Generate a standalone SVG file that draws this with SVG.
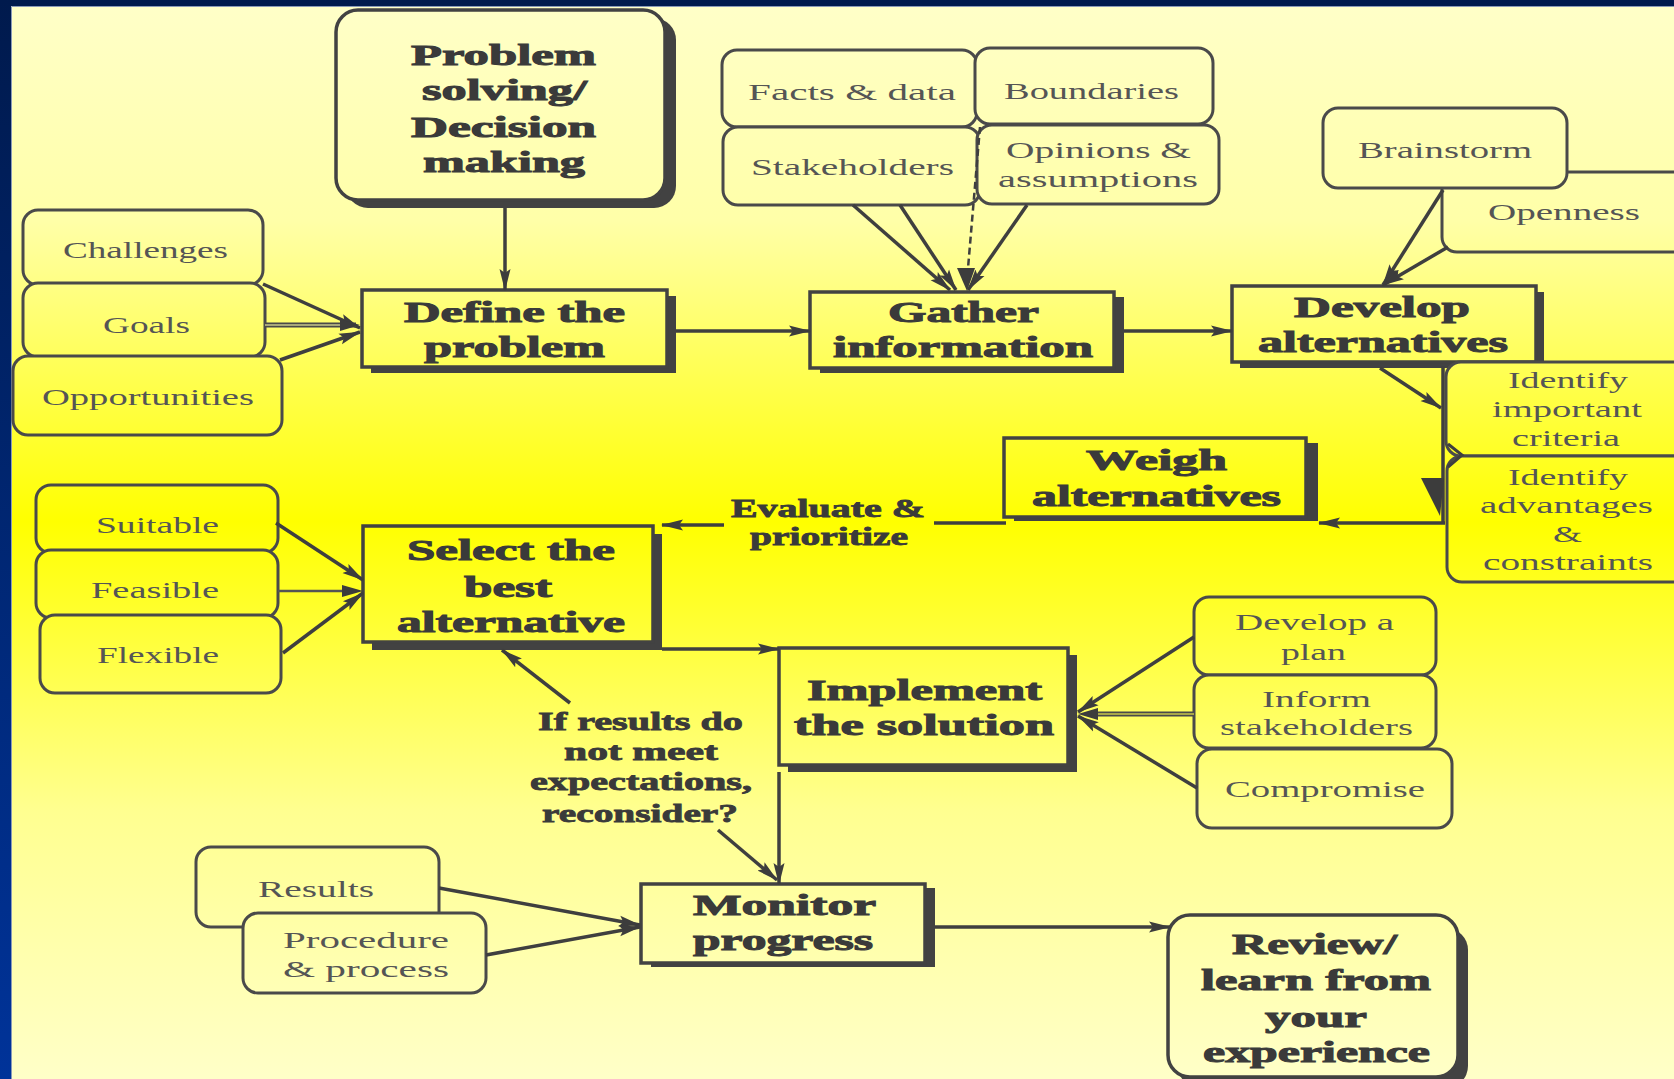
<svg xmlns="http://www.w3.org/2000/svg" width="1674" height="1079" viewBox="0 0 1674 1079">
<defs>
  <linearGradient id="frame" gradientUnits="userSpaceOnUse" x1="0" y1="0" x2="0" y2="1079">
    <stop offset="0" stop-color="#001a4d"/>
    <stop offset="1" stop-color="#003399"/>
  </linearGradient>
  <linearGradient id="bg" gradientUnits="userSpaceOnUse" x1="0" y1="6" x2="0" y2="1079">
    <stop offset="0" stop-color="#ffffc8"/>
    <stop offset="0.2" stop-color="#ffffa8"/>
    <stop offset="0.48" stop-color="#ffff00"/>
    <stop offset="0.75" stop-color="#ffff90"/>
    <stop offset="1" stop-color="#ffffc8"/>
  </linearGradient>
  <marker id="ah" markerUnits="userSpaceOnUse" markerWidth="24" markerHeight="14" refX="21" refY="7" orient="auto" viewBox="0 0 24 14">
    <path d="M0,1.5 L22,7 L0,12.5 L4,7 z" fill="#3c3c3c"/>
  </marker>
</defs>
<style>
  .main { fill: url(#bg); stroke: #424242; stroke-width: 3.5; }
  .sh { fill: #424242; }
  .rb { fill: url(#bg); stroke: #4a4a4a; stroke-width: 3; }
  .t { font-family: "Liberation Serif", "DejaVu Serif", serif; font-weight: bold; font-size: 29px; fill: #3a3a3a; stroke: #3a3a3a; stroke-width: 1; }
  .lb { font-family: "Liberation Serif", "DejaVu Serif", serif; font-weight: bold; font-size: 25px; fill: #3a3a3a; stroke: #3a3a3a; stroke-width: 0.8; }
  .s { font-family: "Liberation Serif", "DejaVu Serif", serif; font-size: 24px; fill: #555555; }
  .c { stroke: #3f3f3f; stroke-width: 3.5; fill: none; }
  .ca { stroke: #3f3f3f; stroke-width: 3.5; fill: none; marker-end: url(#ah); }
</style>

<!-- background -->
<rect x="0" y="0" width="1674" height="1079" fill="url(#frame)"/>
<rect x="11" y="6" width="1663" height="1073" fill="url(#bg)"/>
<path d="M11.5,1079 V6.5 H1674" fill="none" stroke="#8a9ab8" stroke-width="1"/>

<!-- nodes -->
<g id="problem-solving">
  <rect class="sh" x="346" y="18" width="330" height="190" rx="22"/>
  <rect class="main" x="336" y="10" width="329" height="190" rx="22"/>
  <text class="t" x="411" y="65" textLength="185" lengthAdjust="spacingAndGlyphs">Problem</text>
  <text class="t" x="422" y="100" textLength="165" lengthAdjust="spacingAndGlyphs">solving/</text>
  <text class="t" x="411" y="137" textLength="185" lengthAdjust="spacingAndGlyphs">Decision</text>
  <text class="t" x="423" y="172" textLength="162" lengthAdjust="spacingAndGlyphs">making</text>
</g>

<g id="challenges">
  <rect class="rb" x="23" y="210" width="240" height="75" rx="15"/>
  <text class="s" x="63" y="258" textLength="165" lengthAdjust="spacingAndGlyphs">Challenges</text>
</g>
<g id="goals">
  <rect class="rb" x="23" y="283" width="242" height="74" rx="15"/>
  <text class="s" x="103" y="333" textLength="87" lengthAdjust="spacingAndGlyphs">Goals</text>
</g>
<g id="opportunities">
  <rect class="rb" x="13" y="356" width="269" height="79" rx="15"/>
  <text class="s" x="42" y="405" textLength="212" lengthAdjust="spacingAndGlyphs">Opportunities</text>
</g>

<g id="define">
  <rect class="sh" x="371" y="296" width="305" height="77"/>
  <rect class="main" x="362" y="290" width="305" height="77"/>
  <text class="t" x="404" y="322" textLength="221" lengthAdjust="spacingAndGlyphs">Define the</text>
  <text class="t" x="424" y="357" textLength="181" lengthAdjust="spacingAndGlyphs">problem</text>
</g>

<g id="facts">
  <rect class="rb" x="722" y="50" width="255" height="77" rx="15"/>
  <text class="s" x="748" y="100" textLength="208" lengthAdjust="spacingAndGlyphs">Facts &amp; data</text>
</g>
<g id="boundaries">
  <rect class="rb" x="975" y="48" width="238" height="76" rx="15"/>
  <text class="s" x="1004" y="99" textLength="175" lengthAdjust="spacingAndGlyphs">Boundaries</text>
</g>
<g id="stakeholders">
  <rect class="rb" x="723" y="127" width="257" height="78" rx="15"/>
  <text class="s" x="751" y="175" textLength="203" lengthAdjust="spacingAndGlyphs">Stakeholders</text>
</g>
<g id="opinions">
  <rect class="rb" x="977" y="125" width="242" height="79" rx="15"/>
  <text class="s" x="1006" y="158" textLength="185" lengthAdjust="spacingAndGlyphs">Opinions &amp;</text>
  <text class="s" x="998" y="187" textLength="200" lengthAdjust="spacingAndGlyphs">assumptions</text>
</g>

<g id="gather">
  <rect class="sh" x="820" y="297" width="304" height="76"/>
  <rect class="main" x="810" y="292" width="304" height="76"/>
  <text class="t" x="888" y="322" textLength="151" lengthAdjust="spacingAndGlyphs">Gather</text>
  <text class="t" x="833" y="357" textLength="260" lengthAdjust="spacingAndGlyphs">information</text>
</g>

<g id="openness">
  <rect class="rb" x="1442" y="172" width="250" height="80" rx="15"/>
  <text class="s" x="1488" y="220" textLength="152" lengthAdjust="spacingAndGlyphs">Openness</text>
</g>
<g id="brainstorm">
  <rect class="rb" x="1323" y="108" width="244" height="80" rx="15"/>
  <text class="s" x="1358" y="158" textLength="174" lengthAdjust="spacingAndGlyphs">Brainstorm</text>
</g>

<g id="develop">
  <rect class="sh" x="1240" y="292" width="304" height="76"/>
  <rect class="main" x="1232" y="286" width="304" height="76"/>
  <text class="t" x="1294" y="317" textLength="176" lengthAdjust="spacingAndGlyphs">Develop</text>
  <text class="t" x="1258" y="352" textLength="250" lengthAdjust="spacingAndGlyphs">alternatives</text>
</g>

<g id="criteria">
  <rect class="rb" x="1446" y="362" width="250" height="94" rx="15"/>
  <text class="s" x="1508" y="388" font-size="23" textLength="120" lengthAdjust="spacingAndGlyphs">Identify</text>
  <text class="s" x="1492" y="417" font-size="23" textLength="150" lengthAdjust="spacingAndGlyphs">important</text>
  <text class="s" x="1512" y="446" font-size="23" textLength="108" lengthAdjust="spacingAndGlyphs">criteria</text>
</g>
<g id="advantages">
  <rect class="rb" x="1447" y="456" width="250" height="126" rx="15"/>
  <text class="s" x="1508" y="485" font-size="23" textLength="120" lengthAdjust="spacingAndGlyphs">Identify</text>
  <text class="s" x="1480" y="513" font-size="23" textLength="173" lengthAdjust="spacingAndGlyphs">advantages</text>
  <text class="s" x="1553" y="542" font-size="23" textLength="29" lengthAdjust="spacingAndGlyphs">&amp;</text>
  <text class="s" x="1483" y="570" font-size="23" textLength="170" lengthAdjust="spacingAndGlyphs">constraints</text>
</g>

<g id="weigh">
  <rect class="sh" x="1014" y="443" width="304" height="78"/>
  <rect class="main" x="1004" y="438" width="302" height="79"/>
  <text class="t" x="1086" y="470" textLength="141" lengthAdjust="spacingAndGlyphs">Weigh</text>
  <text class="t" x="1032" y="506" textLength="249" lengthAdjust="spacingAndGlyphs">alternatives</text>
</g>

<g id="evaluate-label">
  <text class="lb" x="731" y="517" textLength="194" lengthAdjust="spacingAndGlyphs">Evaluate &amp;</text>
  <text class="lb" x="750" y="545" textLength="158" lengthAdjust="spacingAndGlyphs">prioritize</text>
</g>

<g id="suitable">
  <rect class="rb" x="36" y="485" width="242" height="68" rx="15"/>
  <text class="s" x="96" y="533" textLength="123" lengthAdjust="spacingAndGlyphs">Suitable</text>
</g>
<g id="feasible">
  <rect class="rb" x="36" y="550" width="242" height="68" rx="15"/>
  <text class="s" x="91" y="598" textLength="128" lengthAdjust="spacingAndGlyphs">Feasible</text>
</g>
<g id="flexible">
  <rect class="rb" x="40" y="615" width="241" height="78" rx="15"/>
  <text class="s" x="97" y="663" textLength="122" lengthAdjust="spacingAndGlyphs">Flexible</text>
</g>

<g id="select">
  <rect class="sh" x="372" y="534" width="290" height="116"/>
  <rect class="main" x="363" y="526" width="290" height="116"/>
  <text class="t" x="407" y="560" textLength="208" lengthAdjust="spacingAndGlyphs">Select the</text>
  <text class="t" x="464" y="597" textLength="88" lengthAdjust="spacingAndGlyphs">best</text>
  <text class="t" x="397" y="632" textLength="228" lengthAdjust="spacingAndGlyphs">alternative</text>
</g>

<g id="reconsider-label">
  <text class="lb" x="538" y="730" textLength="205" lengthAdjust="spacingAndGlyphs">If results do</text>
  <text class="lb" x="564" y="760" textLength="154" lengthAdjust="spacingAndGlyphs">not meet</text>
  <text class="lb" x="530" y="790" textLength="222" lengthAdjust="spacingAndGlyphs">expectations,</text>
  <text class="lb" x="542" y="822" textLength="196" lengthAdjust="spacingAndGlyphs">reconsider?</text>
</g>

<g id="implement">
  <rect class="sh" x="788" y="655" width="289" height="117"/>
  <rect class="main" x="779" y="648" width="289" height="117"/>
  <text class="t" x="807" y="700" textLength="235" lengthAdjust="spacingAndGlyphs">Implement</text>
  <text class="t" x="794" y="735" textLength="260" lengthAdjust="spacingAndGlyphs">the solution</text>
</g>

<g id="plan">
  <rect class="rb" x="1194" y="597" width="242" height="78" rx="15"/>
  <text class="s" x="1235" y="630" textLength="159" lengthAdjust="spacingAndGlyphs">Develop a</text>
  <text class="s" x="1281" y="660" textLength="65" lengthAdjust="spacingAndGlyphs">plan</text>
</g>
<g id="inform">
  <rect class="rb" x="1194" y="675" width="242" height="73" rx="15"/>
  <text class="s" x="1262" y="707" textLength="109" lengthAdjust="spacingAndGlyphs">Inform</text>
  <text class="s" x="1220" y="735" textLength="193" lengthAdjust="spacingAndGlyphs">stakeholders</text>
</g>
<g id="compromise">
  <rect class="rb" x="1197" y="749" width="255" height="79" rx="15"/>
  <text class="s" x="1225" y="797" textLength="200" lengthAdjust="spacingAndGlyphs">Compromise</text>
</g>

<g id="results">
  <rect class="rb" x="196" y="847" width="243" height="80" rx="15"/>
  <text class="s" x="258" y="897" textLength="116" lengthAdjust="spacingAndGlyphs">Results</text>
</g>
<g id="procedure">
  <rect class="rb" x="243" y="913" width="243" height="80" rx="15"/>
  <text class="s" x="283" y="948" textLength="166" lengthAdjust="spacingAndGlyphs">Procedure</text>
  <text class="s" x="283" y="977" textLength="166" lengthAdjust="spacingAndGlyphs">&amp; process</text>
</g>

<g id="monitor">
  <rect class="sh" x="651" y="888" width="284" height="79"/>
  <rect class="main" x="641" y="884" width="284" height="79"/>
  <text class="t" x="693" y="915" textLength="183" lengthAdjust="spacingAndGlyphs">Monitor</text>
  <text class="t" x="693" y="950" textLength="180" lengthAdjust="spacingAndGlyphs">progress</text>
</g>

<g id="review">
  <rect class="sh" x="1178" y="928" width="290" height="160" rx="22"/>
  <rect class="main" x="1168" y="915" width="290" height="162" rx="22"/>
  <text class="t" x="1232" y="954" textLength="165" lengthAdjust="spacingAndGlyphs">Review/</text>
  <text class="t" x="1201" y="990" textLength="230" lengthAdjust="spacingAndGlyphs">learn from</text>
  <text class="t" x="1265" y="1027" textLength="102" lengthAdjust="spacingAndGlyphs">your</text>
  <text class="t" x="1203" y="1062" textLength="227" lengthAdjust="spacingAndGlyphs">experience</text>
</g>

<!-- connectors -->
<g id="connectors">
  <line class="ca" x1="505" y1="208" x2="505" y2="290"/>
  <line class="ca" x1="263" y1="284" x2="360" y2="328"/>
  <line x1="265" y1="325" x2="356" y2="325" stroke="#4a4a4a" stroke-width="5"/>
  <line x1="265" y1="325" x2="352" y2="325" stroke="#c9c98a" stroke-width="1.5"/>
  <path d="M340,319 L360,325 L340,331 z" fill="#3c3c3c"/>
  <line class="ca" x1="280" y1="360" x2="360" y2="332"/>
  <line class="ca" x1="676" y1="331" x2="810" y2="331"/>

  <line class="ca" x1="853" y1="205" x2="950" y2="290"/>
  <line class="ca" x1="900" y1="205" x2="956" y2="290"/>
  <line x1="980" y1="127" x2="967" y2="280" stroke="#3f3f3f" stroke-width="2.5" stroke-dasharray="7 4"/>
  <path d="M957,268 L967,291 L975,268 z" fill="#3c3c3c"/>
  <line class="ca" x1="1027" y1="205" x2="968" y2="290"/>
  <line class="ca" x1="1124" y1="331" x2="1232" y2="331"/>

  <line class="ca" x1="1443" y1="190" x2="1383" y2="285"/>
  <line class="ca" x1="1448" y1="247" x2="1383" y2="285"/>

  <line class="ca" x1="1380" y1="368" x2="1441" y2="408"/>
  <line class="c" x1="1443" y1="366" x2="1443" y2="523" stroke-width="4"/>
  <path d="M1421,478 L1444,478 L1440,516 z" fill="#3c3c3c"/>
  <path d="M1448,444 L1462,455 L1448,467" fill="none" stroke="#3f3f3f" stroke-width="3"/>
  <line class="ca" x1="1445" y1="523" x2="1319" y2="523"/>

  <line class="c" x1="1006" y1="523" x2="934" y2="523"/>
  <line class="ca" x1="724" y1="525" x2="662" y2="525"/>

  <line class="ca" x1="276" y1="523" x2="363" y2="580"/>
  <line x1="278" y1="591" x2="350" y2="591" stroke="#555" stroke-width="2.5"/>
  <path d="M342,585 L363,591 L342,597 z" fill="#3c3c3c"/>
  <line class="ca" x1="283" y1="653" x2="363" y2="593"/>

  <line class="ca" x1="662" y1="649" x2="779" y2="649"/>
  <line class="ca" x1="570" y1="703" x2="502" y2="650"/>

  <line class="ca" x1="1194" y1="637" x2="1078" y2="712"/>
  <line x1="1194" y1="714" x2="1092" y2="714" stroke="#4a4a4a" stroke-width="5"/>
  <line x1="1194" y1="714" x2="1096" y2="714" stroke="#c9c94a" stroke-width="1.5"/>
  <path d="M1098,708 L1078,714 L1098,720 z" fill="#3c3c3c"/>
  <line class="ca" x1="1197" y1="788" x2="1078" y2="716"/>

  <line class="ca" x1="779" y1="772" x2="779" y2="884"/>
  <line class="ca" x1="718" y1="830" x2="777" y2="880"/>

  <line class="ca" x1="439" y1="888" x2="640" y2="925"/>
  <line class="ca" x1="486" y1="955" x2="640" y2="927"/>
  <line class="ca" x1="935" y1="927" x2="1170" y2="927"/>
</g>
</svg>
